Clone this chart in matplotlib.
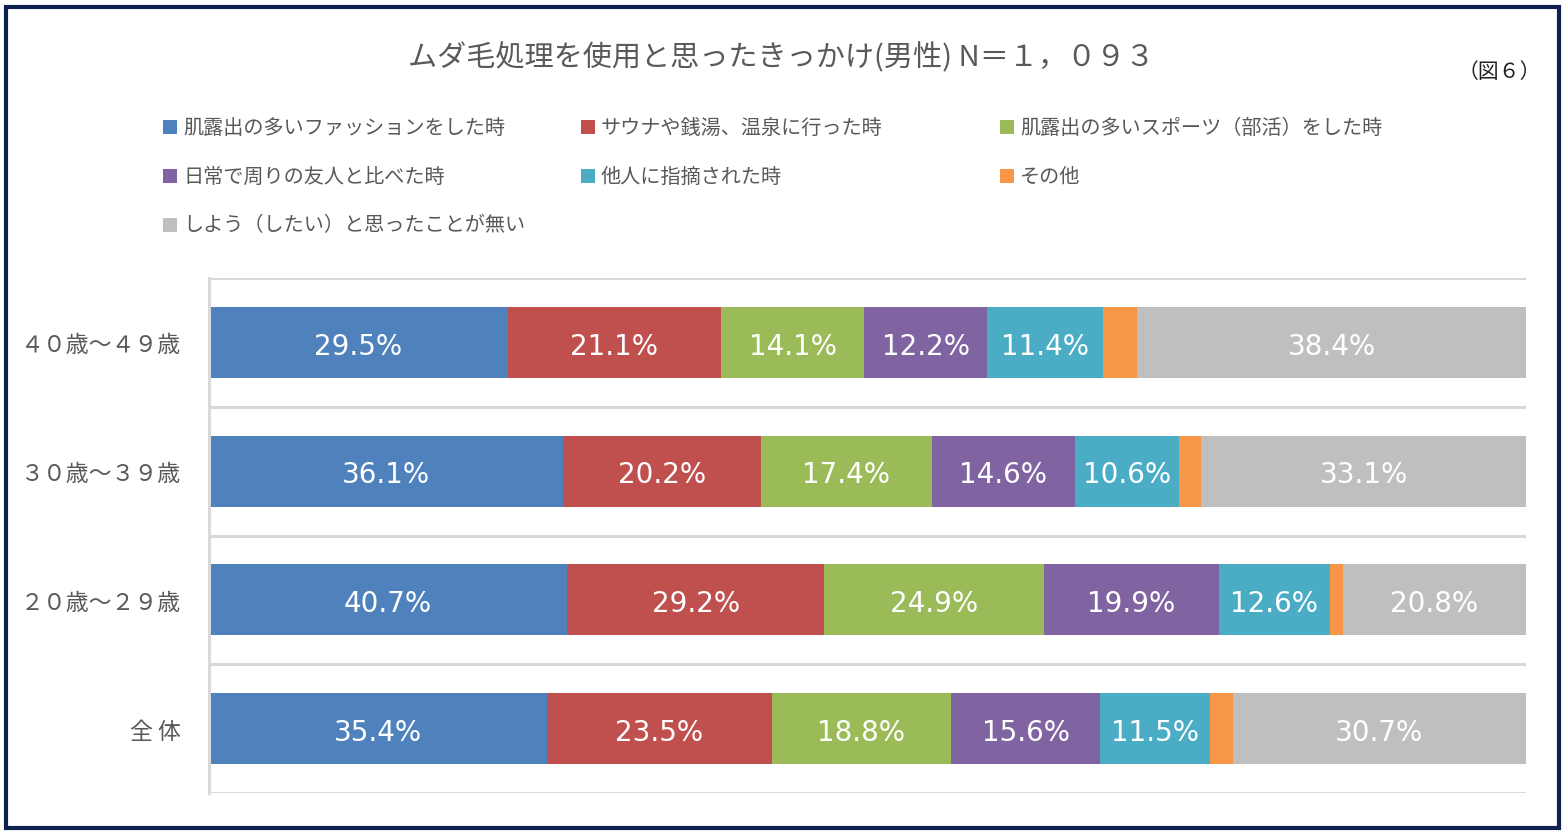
import numpy as np
import matplotlib.pyplot as plt
from matplotlib.patches import Rectangle

# data (その他 is unlabeled)
groups = ['４０歳～４９歳', '３０歳～３９歳', '２０歳～２９歳', '全 体']
series = ['肌露出の多いファッションをした時', 'サウナや銭湯、温泉に行った時', '肌露出の多いスポーツ（部活）をした時',
          '日常で周りの友人と比べた時', '他人に指摘された時', 'その他', 'しよう（したい）と思ったことが無い']
values = [
    [29.5, 36.1, 40.7, 35.4],
    [21.1, 20.2, 29.2, 23.5],
    [14.1, 17.4, 24.9, 18.8],
    [12.2, 14.6, 19.9, 15.6],
    [11.4, 10.6, 12.6, 11.5],
    [3.4, 2.3, 1.5, 2.4],
    [38.4, 33.1, 20.8, 30.7],
]
show_label = [True, True, True, True, True, False, True]
colors = ['#4f81bd', '#c0504d', '#9bbb59', '#8064a2', '#4bacc6', '#f79646', '#bfbfbf']

jp = ['Noto Sans CJK JP', 'DejaVu Sans']
txt_color = '#595959'

vals = np.array(values)
totals = vals.sum(axis=0)
share = vals / totals * 100  # 100% stacked

fig = plt.figure(figsize=(15.66, 8.37), dpi=100)
ax = fig.add_axes([209/1566, 1-794/837, (1526-209)/1566, (794-279)/837])

y = np.arange(len(groups))
left = np.zeros(len(groups))
for i in range(len(series)):
    ax.barh(y, share[i], left=left, height=0.55, color=colors[i], edgecolor='none')
    if show_label[i]:
        for j in range(len(groups)):
            ax.text(left[j] + share[i][j]/2, y[j] + 0.025, '%.1f%%' % vals[i][j], ha='center', va='center',
                    color='white', fontsize=20, family='DejaVu Sans')
    left += share[i]

ax.set_xlim(0, 100)
ax.set_ylim(len(groups)-0.5, -0.5)
for b in np.arange(-0.5, len(groups), 1.0):
    ax.axhline(b, color='#d9d9d9', lw=2.2, zorder=0)
ax.set_yticks(y)
ax.set_yticklabels(groups, family=jp, fontsize=16.5, color=txt_color)
ax.tick_params(axis='y', length=0, pad=20)
ax.set_xticks([])
for s in ['top', 'right', 'bottom']:
    ax.spines[s].set_visible(False)
ax.spines['left'].set_color('#d9d9d9')
ax.spines['left'].set_linewidth(2.2)
ax.spines['left'].set_bounds(-0.5, len(groups)-0.5)

# title
fig.text(781/1566, 1-58/837, 'ムダ毛処理を使用と思ったきっかけ(男性) N＝１，０９３', ha='center', va='center',
         fontsize=21, color=txt_color, family=jp)
fig.text(1499/1566, 1-72/837, '（図６）', ha='center', va='center', fontsize=15, color='#222222', family=jp)

# legend drawn by hand, 3 columns
col_x = [163, 581, 1000]
row_y = [128, 177, 226]
for k, name in enumerate(series):
    cx = col_x[k % 3]
    cy = row_y[k // 3]
    fig.patches.append(Rectangle((cx/1566, 1-(cy+7)/837), 14/1566, 14/837, transform=fig.transFigure,
                                 facecolor=colors[k], edgecolor='none'))
    fig.text((cx+20)/1566, 1-cy/837, name, ha='left', va='center', fontsize=14.5, color=txt_color, family=jp)

# outer frame
fig.patches.append(Rectangle((6/1566, 1-829/837), 1553/1566, 821/837, transform=fig.transFigure,
                             facecolor='none', edgecolor='#0e2150', lw=3))

fig.savefig('out.png', dpi=100)
